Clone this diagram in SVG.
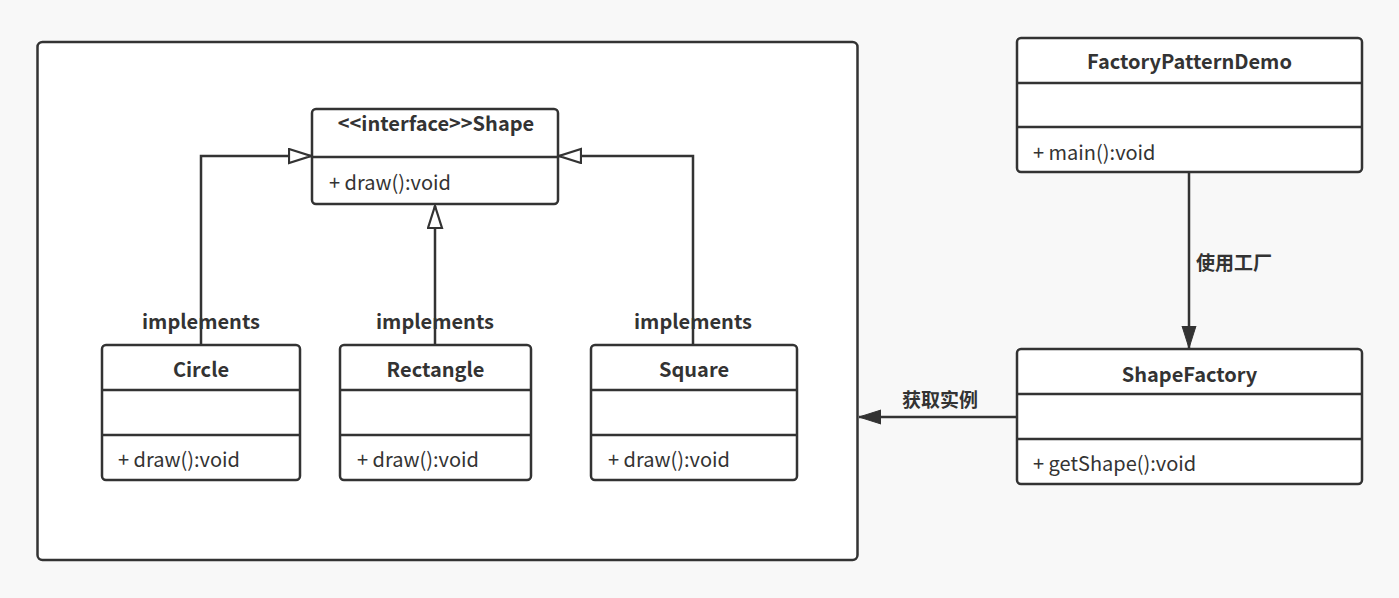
<svg xmlns="http://www.w3.org/2000/svg" width="1399" height="598" viewBox="0 0 1399 598">
<style>
.box{fill:#fff;stroke:#333;stroke-width:2.5}
.div{stroke:#333;stroke-width:2.5}
.title{font-family:"Noto Sans CJK SC","Noto Sans",sans-serif;font-weight:bold;font-size:20px;fill:#333;text-anchor:middle}
.mem{font-family:"Noto Sans CJK SC","Noto Sans",sans-serif;font-size:20px;fill:#333}
.lbl{font-family:"Noto Sans CJK SC","Noto Sans",sans-serif;font-weight:bold;font-size:20px;fill:#333}
.cn{font-family:"Noto Sans CJK SC",sans-serif;font-weight:bold;font-size:19px;fill:#333}
.conn{fill:none;stroke:#333;stroke-width:2.5}
</style>
<defs>
<marker id="hollow" markerWidth="26" markerHeight="18" refX="23" refY="8" orient="auto" markerUnits="userSpaceOnUse">
<path d="M1,1 L23,8 L1,15 Z" fill="#fff" stroke="#333" stroke-width="2.2"/>
</marker>
<marker id="filled" markerWidth="26" markerHeight="18" refX="22" refY="8" orient="auto" markerUnits="userSpaceOnUse">
<path d="M0,1 L22,8 L0,15 Z" fill="#333" stroke="#333" stroke-width="1"/>
</marker>
</defs>
<rect width="1399" height="598" fill="#f8f8f8"/>
<g id="container">
<rect class="box" x="37.5" y="42" width="820" height="518" rx="5"/>
</g>
<g id="connectors">
<polyline class="conn" points="201,345 201,156 311,156" marker-end="url(#hollow)"/>
<line class="conn" x1="435" y1="345" x2="435" y2="206" marker-end="url(#hollow)"/>
<polyline class="conn" points="693,345 693,156 559,156" marker-end="url(#hollow)"/>
<line class="conn" x1="1189" y1="172" x2="1189" y2="348" marker-end="url(#filled)"/>
<line class="conn" x1="1017" y1="417" x2="859" y2="417" marker-end="url(#filled)"/>
<text class="lbl" x="201" y="329" text-anchor="middle">implements</text>
<text class="lbl" x="435" y="329" text-anchor="middle">implements</text>
<text class="lbl" x="693" y="329" text-anchor="middle">implements</text>
<text class="cn" x="1196" y="270">使用工厂</text>
<text class="cn" x="940" y="407" text-anchor="middle">获取实例</text>
</g>
<g id="shape">
<rect class="box" x="312" y="109" width="246" height="95" rx="4"/>
<line class="div" x1="312" y1="157" x2="558" y2="157"/>
<text class="title" x="436" y="131">&lt;&lt;interface&gt;&gt;Shape</text>
<text class="mem" x="329" y="190">+ draw():void</text>
</g>
<g id="circle">
<rect class="box" x="102" y="345" width="198" height="135" rx="4"/>
<line class="div" x1="102" y1="390" x2="300" y2="390"/>
<line class="div" x1="102" y1="435" x2="300" y2="435"/>
<text class="title" x="201" y="377">Circle</text>
<text class="mem" x="118" y="467">+ draw():void</text>
</g>
<g id="rectangle">
<rect class="box" x="340" y="345" width="191" height="135" rx="4"/>
<line class="div" x1="340" y1="390" x2="531" y2="390"/>
<line class="div" x1="340" y1="435" x2="531" y2="435"/>
<text class="title" x="435.5" y="377">Rectangle</text>
<text class="mem" x="357" y="467">+ draw():void</text>
</g>
<g id="square">
<rect class="box" x="591" y="345" width="206" height="135" rx="4"/>
<line class="div" x1="591" y1="390" x2="797" y2="390"/>
<line class="div" x1="591" y1="435" x2="797" y2="435"/>
<text class="title" x="694" y="377">Square</text>
<text class="mem" x="608" y="467">+ draw():void</text>
</g>
<g id="factoryPatternDemo">
<rect class="box" x="1017" y="38" width="345" height="134" rx="4"/>
<line class="div" x1="1017" y1="83" x2="1362" y2="83"/>
<line class="div" x1="1017" y1="127" x2="1362" y2="127"/>
<text class="title" x="1189.5" y="69">FactoryPatternDemo</text>
<text class="mem" x="1033" y="160">+ main():void</text>
</g>
<g id="shapeFactory">
<rect class="box" x="1017" y="349" width="345" height="135" rx="4"/>
<line class="div" x1="1017" y1="394" x2="1362" y2="394"/>
<line class="div" x1="1017" y1="439" x2="1362" y2="439"/>
<text class="title" x="1189.5" y="382">ShapeFactory</text>
<text class="mem" x="1033" y="471">+ getShape():void</text>
</g>
</svg>
